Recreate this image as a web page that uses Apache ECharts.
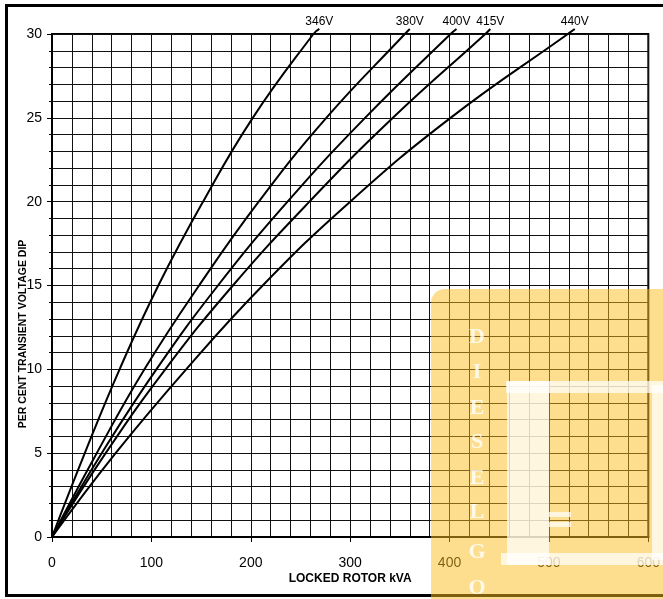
<!DOCTYPE html>
<html><head><meta charset="utf-8">
<script src="https://cdn.jsdelivr.net/npm/echarts@6/dist/echarts.min.js"></script>
<style>html,body{margin:0;padding:0;background:#fff}#c{width:663px;height:599px}</style>
</head><body><div id="c"></div>
<script>
// ---- data ----
const dipLevels = [0, 5, 10, 15, 20, 25, 30, 30.3];          // per cent transient voltage dip
const kva346 = [0, 33, 68, 107, 152, 202, 263, 269];          // locked rotor kVA at each dip level
const kva380 = [0, 45, 93, 148, 208, 276, 355, 360];
const kva400 = [0, 50, 105, 167, 237, 315, 401, 407];
const kva415 = [0, 54, 114, 182, 259, 343, 436, 441];
const kva440 = [0, 64, 135, 212, 300, 401, 519, 526];
const voltageNames = ['346V', '380V', '400V', '415V', '440V'];
const xTickLabels = ['0', '100', '200', '300', '400', '500', '600'];
const yTickLabels = ['0', '5', '10', '15', '20', '25', '30'];
const watermarkLetters = ['D', 'I', 'E', 'S', 'E', 'L', 'G', 'O'];

const NARROW = "'Liberation Sans Narrow', 'Arial Narrow', 'Liberation Sans', sans-serif";
const curves = [kva346, kva380, kva400, kva415, kva440];

const series = curves.map((kv, i) => ({
  type: 'line',
  name: voltageNames[i],
  data: kv.map((x, j) => [x, dipLevels[j]]),
  clip: false,
  symbol: 'none',
  smooth: 0.45,
  lineStyle: { color: '#000', width: 2 },
  endLabel: {
    show: true,
    formatter: '{a}',
    align: 'center',
    verticalAlign: 'bottom',
    distance: 0,
    offset: [0, -1],
    color: '#000',
    fontSize: 12,
    fontFamily: NARROW
  },
  z: 3
}));

// watermark overlay (decorative, not data)
const wm = [];
wm.push({ type: 'rect', shape: { x: 431, y: 289, width: 240, height: 320, r: [14, 0, 0, 0] },
  style: { fill: 'rgba(249,190,30,0.5)' }, z: 100 });
const white = 'rgba(255,255,255,0.72)';
[[506, 381, 160, 12], [507, 381, 42, 184], [501, 553, 165, 12], [652, 385, 15, 175],
 [549, 512, 22, 5], [549, 522, 22, 5]].forEach(r => {
  wm.push({ type: 'rect', shape: { x: r[0], y: r[1], width: r[2], height: r[3] }, style: { fill: white }, z: 101 });
});
const letterY = [337, 372, 408, 442, 478, 512, 552, 588];
watermarkLetters.forEach((ch, i) => {
  wm.push({ type: 'text', x: 477, y: letterY[i], z: 102,
    style: { text: ch, fill: 'rgba(255,255,255,0.8)', font: "bold 22px 'Liberation Serif', 'DejaVu Serif', serif",
      align: 'center', verticalAlign: 'middle' } });
});
// outer frame
wm.push({ type: 'rect', shape: { x: 6.5, y: 5.5, width: 700, height: 590 },
  style: { fill: 'none', stroke: '#000', lineWidth: 3 }, z: 50 });

const chart = echarts.init(document.getElementById('c'), null, { renderer: 'canvas' });
chart.setOption({
  animation: false,
  backgroundColor: '#fff',
  grid: { left: 52, right: 11, top: 34, bottom: 62, show: true, borderColor: '#000', borderWidth: 2, backgroundColor: 'transparent' },
  xAxis: {
    type: 'value', min: 0, max: 600, interval: 100,
    name: 'LOCKED ROTOR kVA', nameLocation: 'middle', nameGap: 36, nameMoveOverlap: false,
    nameTextStyle: { color: '#000', fontSize: 12, fontWeight: 'bold', fontFamily: NARROW },
    axisLine: { show: true, lineStyle: { color: '#000', width: 2 } },
    axisTick: { show: true, length: 5, lineStyle: { color: '#000', width: 1 } },
    axisLabel: { color: '#000', fontSize: 14, fontFamily: NARROW, margin: 19,
      formatter: (v) => xTickLabels[Math.round(v / 100)] },
    splitLine: { show: true, lineStyle: { color: '#111', width: 1 } },
    minorTick: { show: false, splitNumber: 5 },
    minorSplitLine: { show: true, lineStyle: { color: '#111', width: 1 } }
  },
  yAxis: {
    type: 'value', min: 0, max: 30, interval: 5,
    name: 'PER CENT TRANSIENT VOLTAGE DIP', nameLocation: 'middle', nameGap: 23, nameMoveOverlap: false,
    nameTextStyle: { color: '#000', fontSize: 10.5, fontWeight: 'bold', fontFamily: NARROW, padding: [0, 97, 0, 0] },
    axisLine: { show: true, lineStyle: { color: '#000', width: 2 } },
    axisTick: { show: true, length: 5, lineStyle: { color: '#000', width: 1 } },
    axisLabel: { color: '#000', fontSize: 14, fontFamily: NARROW, margin: 10,
      formatter: (v) => yTickLabels[Math.round(v / 5)] },
    splitLine: { show: true, lineStyle: { color: '#111', width: 1 } },
    minorTick: { show: true, splitNumber: 5, length: 3, lineStyle: { color: '#000', width: 1 } },
    minorSplitLine: { show: true, lineStyle: { color: '#111', width: 1 } }
  },
  series: series,
  graphic: wm
});
</script>
</body></html>
